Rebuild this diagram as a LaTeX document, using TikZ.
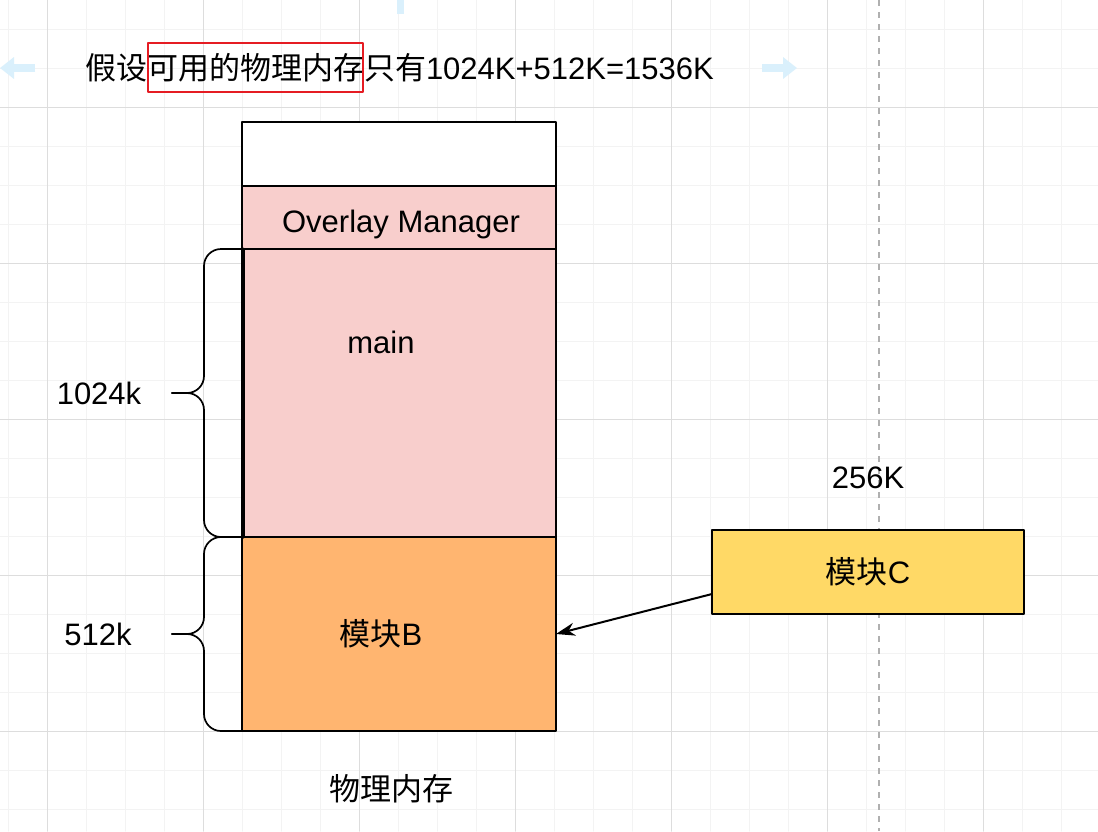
\documentclass[tikz,border=0pt]{standalone}
\usepackage{fontspec}
\setmainfont{Liberation Sans}
\newfontfamily\cjk{Noto Sans CJK SC}
\usetikzlibrary{positioning,arrows.meta}
\definecolor{pinkfill}{HTML}{F8CECC}
\definecolor{orangefill}{HTML}{FFB570}
\definecolor{yellowfill}{HTML}{FFD966}
\definecolor{framered}{HTML}{E51C23}
\definecolor{hintblue}{HTML}{DAF0FC}
\definecolor{minorline}{HTML}{F3F3F3}
\definecolor{majorline}{HTML}{DDDDDD}
\definecolor{guidegray}{HTML}{B0B0B0}
\begin{document}
\begin{tikzpicture}[x=1pt,y=-1pt,line cap=round,line join=round,
    every node/.style={font=\fontsize{31}{37}\selectfont,inner sep=0pt,outer sep=0pt},
    membox/.style={draw,line width=2pt,minimum width=314pt},
    brace/.style={line width=1.7pt,rounded corners=17pt},
    hintarrow/.style={hintblue,line width=8pt,line cap=butt,-{Triangle[length=14pt,width=21pt]}}]
  \def\bx{204} \def\tx{172}
  \fill[white] (0,0) rectangle (1098,831);
  \useasboundingbox (0,0) rectangle (1098,831);
  \foreach \gx in {8,47,...,1098} \draw[minorline,line width=1pt] (\gx,0) -- (\gx,831);
  \foreach \gy in {29,68,...,831} \draw[minorline,line width=1pt] (0,\gy) -- (1098,\gy);
  \foreach \gx in {47,203,...,1098} \draw[majorline,line width=1pt] (\gx,0) -- (\gx,831);
  \foreach \gy in {107,263,...,831} \draw[majorline,line width=1pt] (0,\gy) -- (1098,\gy);
  \draw[guidegray,line width=1.3pt,line cap=butt,dash pattern=on 6pt off 6pt] (879,0) -- (879,831);

  \draw[hintarrow] (35,68) -- (0,68);
  \draw[hintarrow] (762,68) -- (797,68);
  \draw[hintblue,line width=7pt,line cap=butt] (400,14) -- (400,0);

  \node[anchor=west] (title) at (85,68) {{\cjk 假设可用的物理内存只有}1024K+512K=1536K};
  \node[draw=framered,line width=2.2pt,minimum width=215pt,minimum height=49pt] (hl) at (255.5,67.5) {};

  \node[membox,fill=white,minimum height=64pt,anchor=north west] (topbox) at (242,122) {};
  \node[membox,fill=pinkfill,minimum height=63pt,below=0pt of topbox] (ovl) {};
  \node[membox,fill=pinkfill,minimum height=288pt,below=0pt of ovl] (mainbox) {};
  \node[membox,fill=orangefill,minimum height=194pt,below=0pt of mainbox] (modB) {};
  \draw[line width=3pt] ([xshift=1pt]mainbox.north west) -- ([xshift=1pt]mainbox.south west);
  \node (ovllbl) at (401,224) {Overlay Manager};
  \node (mainlbl) at (381,342) {main};
  \node (modBlbl) at (381,634) {{\cjk 模块}B};
  \node (memlbl) at (391,789) {\cjk 物理内存};

  \node[draw,line width=2pt,fill=yellowfill,minimum width=312pt,minimum height=84pt] (modC) at (868,572) {{\cjk 模块}C};
  \node (sizeC) at (868,478) {256K};
  \draw[line width=2pt,-{Stealth[length=19pt,width=13pt,inset=6pt]}] ([yshift=-22pt]modC.west) -- (modB.east);

  \draw[brace] (mainbox.north west) -| (\bx,393) -- (\tx,393);
  \draw[brace] (mainbox.south west) -| (\bx,393) -- (\tx,393);
  \draw[brace] (modB.north west) -| (\bx,634) -- (\tx,634);
  \draw[brace] (modB.south west) -| (\bx,634) -- (\tx,634);
  \node (kA) at (99,393) {1024k};
  \node (kB) at (98,634) {512k};
\end{tikzpicture}
\end{document}
